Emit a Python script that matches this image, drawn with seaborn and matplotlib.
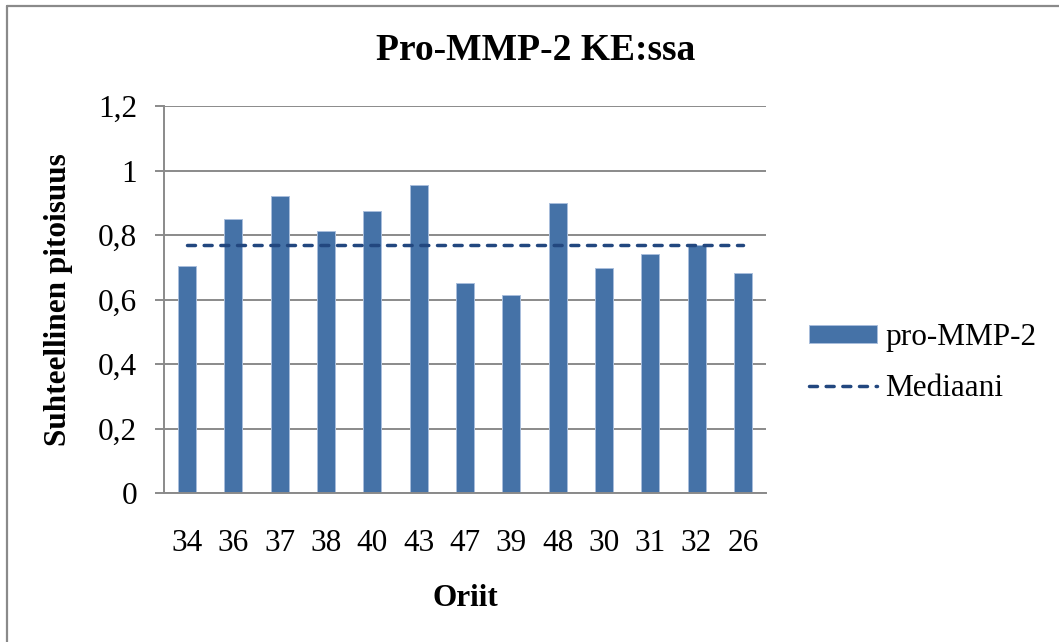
import numpy as np
import pandas as pd
import matplotlib
matplotlib.use("Agg")
import matplotlib.pyplot as plt
from matplotlib.lines import Line2D
import seaborn as sns

# Stallion IDs in display order and their relative pro-MMP-2 levels
stallions = ["34", "36", "37", "38", "40", "43", "47", "39", "48", "30", "31", "32", "26"]
pro_mmp2 = [0.704, 0.850, 0.921, 0.811, 0.873, 0.954, 0.651, 0.613, 0.898, 0.699, 0.742, 0.769, 0.681]

y_ticks = [0, 0.2, 0.4, 0.6, 0.8, 1.0, 1.2]
y_tick_labels = ["0", "0,2", "0,4", "0,6", "0,8", "1", "1,2"]

title = "Pro-MMP-2 KE:ssa"
x_title = "Oriit"
y_title = "Suhteellinen pitoisuus"
bar_label = "pro-MMP-2"
median_label = "Mediaani"

bar_color = "#4572A7"
median_color = "#22477F"
grid_color = "#8A8A8A"

sns.set_theme(style="white")
plt.rcParams["font.family"] = ["Liberation Serif", "DejaVu Serif"]
plt.rcParams["text.color"] = "black"
plt.rcParams["axes.labelcolor"] = "black"

df = pd.DataFrame({"stallion": stallions, "value": pro_mmp2})
median_value = float(np.median(df["value"]))

W, H = 1059, 642
fig = plt.figure(figsize=(W / 100, H / 100), dpi=100)
ax = fig.add_axes([164 / W, 1 - 493 / H, (766 - 164) / W, (493 - 106) / H])

sns.barplot(data=df, x="stallion", y="value", order=stallions, color=bar_color,
            width=0.39, saturation=1, edgecolor="#A9BEDC", linewidth=0.7,
            ax=ax, label=bar_label, zorder=2)

# horizontal median across the category centres
pos = np.arange(len(stallions))
sns.lineplot(x=pos, y=np.full(len(stallions), median_value), ax=ax,
             color=median_color, linewidth=2.5, label=median_label, zorder=3,
             dashes=False)
med_line = ax.lines[-1]
med_line.set_dashes((2.3, 2.5))
med_line.set_dash_capstyle("round")

ax.set_xlim(-0.5, len(stallions) - 0.5)
ax.set_ylim(0, 1.2)
ax.set_yticks(y_ticks)
ax.set_yticklabels(y_tick_labels)

ax.set_axisbelow(True)
ax.yaxis.grid(True, color=grid_color, linewidth=1.4)
ax.xaxis.grid(False)
for side in ["top", "right"]:
    ax.spines[side].set_visible(False)
ax.spines["left"].set_color(grid_color)
ax.spines["left"].set_linewidth(1.4)
ax.spines["bottom"].set_color(grid_color)
ax.spines["bottom"].set_linewidth(1.4)

ax.tick_params(axis="y", which="major", left=True, length=6.5, width=1.4,
               color=grid_color, pad=13, labelsize=22.5, labelcolor="black")
ax.tick_params(axis="x", which="major", bottom=False, length=0, pad=26,
               labelsize=22.5, labelcolor="black")

ax.set_xlabel(x_title, fontsize=22.5, fontweight="bold", va="center")
ax.xaxis.set_label_coords(0.5, (493 - 598) / (493 - 106))
ax.set_ylabel(y_title, fontsize=22.5, fontweight="bold", va="center")
ax.yaxis.set_label_coords((59 - 164) / (766 - 164), 0.5)

fig.text(536 / W, 1 - 50 / H, title, ha="center", va="center",
         fontsize=27, fontweight="bold", color="black")

# bars first, then the median line
handles, labels = ax.get_legend_handles_labels()
order = [labels.index(bar_label), labels.index(median_label)]
leg = ax.legend([handles[i] for i in order], [labels[i] for i in order],
                loc="center left", bbox_to_anchor=(809 / W, 1 - 363 / H),
                bbox_transform=fig.transFigure, frameon=False, fontsize=22.5,
                borderpad=0, borderaxespad=0, handlelength=2.18, handleheight=0.51,
                handletextpad=0.26, labelspacing=0.71)

# outer chart frame (top and left edges)
fig.add_artist(Line2D([7 / W, 7 / W], [0, 1 - 6 / H], transform=fig.transFigure,
                      color="#8A8A8A", linewidth=1.6))
fig.add_artist(Line2D([7 / W, 1], [1 - 6 / H, 1 - 6 / H], transform=fig.transFigure,
                      color="#8A8A8A", linewidth=1.6))

fig.savefig("out.png", dpi=100, facecolor="white")
